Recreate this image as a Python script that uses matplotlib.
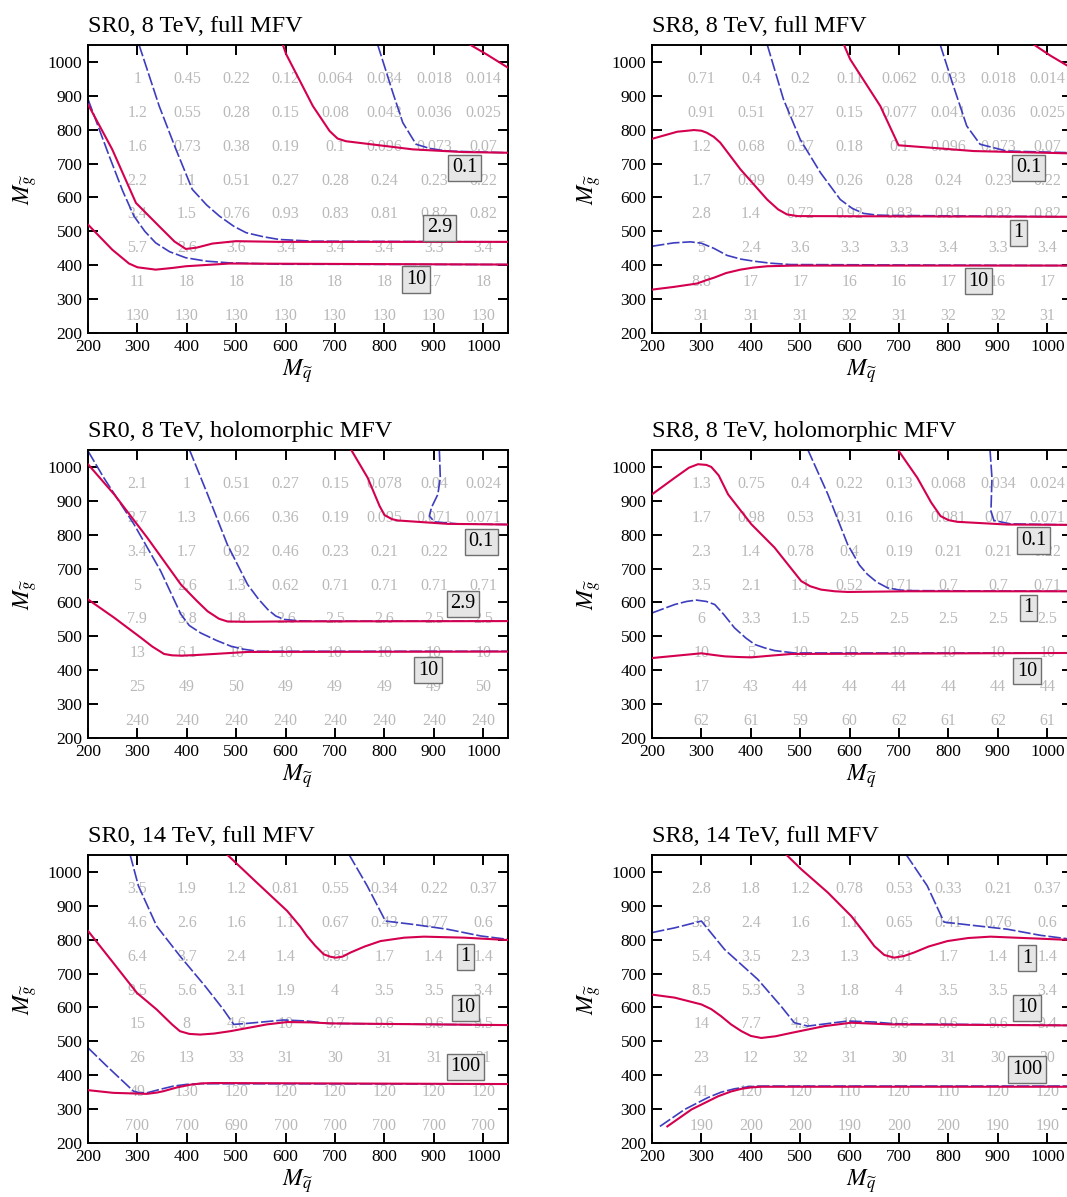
import matplotlib
matplotlib.use("Agg")
import matplotlib.pyplot as plt

plt.rcParams['font.family'] = ['Liberation Serif', 'DejaVu Serif']
plt.rcParams['mathtext.fontset'] = 'stix'
plt.rcParams['lines.scale_dashes'] = False

# ---------------- data ----------------
msq = [300, 400, 500, 600, 700, 800, 900, 1000]          # squark mass columns
mgl = [950, 850, 750, 650, 550, 450, 350, 250]           # gluino mass rows
ticks = [200, 300, 400, 500, 600, 700, 800, 900, 1000]

# Panel 1: SR0, 8 TeV, full MFV
p1_title = "SR0, 8 TeV, full MFV"
p1_values = [
    [1, 0.45, 0.22, 0.12, 0.064, 0.034, 0.018, 0.014],
    [1.2, 0.55, 0.28, 0.15, 0.08, 0.043, 0.036, 0.025],
    [1.6, 0.73, 0.38, 0.19, 0.1, 0.096, 0.073, 0.07],
    [2.2, 1.1, 0.51, 0.27, 0.28, 0.24, 0.23, 0.22],
    [3.4, 1.5, 0.76, 0.93, 0.83, 0.81, 0.82, 0.82],
    [5.7, 2.6, 3.6, 3.4, 3.4, 3.4, 3.3, 3.4],
    [11, 18, 18, 18, 18, 18, 17, 18],
    [130, 130, 130, 130, 130, 130, 130, 130],
]
p1_red = [
    ([972, 1006, 1050], [1052, 1023, 983]),
    ([594, 601, 655, 689, 705, 722, 756, 857, 959, 1050], [1052, 1023, 870, 796, 774, 766, 760, 742, 734, 732]),
    ([200, 249, 297, 344, 375, 398, 420, 452, 499, 587, 1050], [875, 742, 584, 515, 470, 448, 452, 464, 471, 469, 469]),
    ([200, 249, 283, 300, 337, 371, 398, 486, 1050], [520, 446, 405, 394, 387, 392, 397, 405, 402]),
]
p1_blue = [
    ([786, 817, 837, 864, 891, 925, 1050], [1052, 909, 821, 757, 745, 737, 732]),
    ([303, 344, 378, 411, 440, 466, 495, 520, 555, 587, 655, 1050], [1052, 870, 742, 624, 578, 545, 515, 496, 484, 476, 471, 469]),
    ([200, 243, 270, 293, 315, 337, 365, 398, 440, 486, 587, 1050], [890, 722, 620, 545, 500, 466, 440, 422, 412, 407, 403, 402]),
]
p1_labels = [("0.1", 962, 688), ("2.9", 911, 510), ("10", 864, 358)]

# Panel 2: SR8, 8 TeV, full MFV
p2_title = "SR8, 8 TeV, full MFV"
p2_values = [
    [0.71, 0.4, 0.2, 0.11, 0.062, 0.033, 0.018, 0.014],
    [0.91, 0.51, 0.27, 0.15, 0.077, 0.041, 0.036, 0.025],
    [1.2, 0.68, 0.37, 0.18, 0.1, 0.096, 0.073, 0.07],
    [1.7, 0.99, 0.49, 0.26, 0.28, 0.24, 0.23, 0.22],
    [2.8, 1.4, 0.72, 0.92, 0.83, 0.81, 0.82, 0.82],
    [5, 2.4, 3.6, 3.3, 3.3, 3.4, 3.3, 3.4],
    [8.8, 17, 17, 16, 16, 17, 16, 17],
    [31, 31, 31, 32, 31, 32, 32, 31],
]
p2_red = [
    ([972, 1007, 1050], [1052, 1018, 981]),
    ([588, 601, 662, 699, 763, 851, 1050], [1052, 1008, 870, 754, 747, 737, 730]),
    ([200, 251, 285, 300, 311, 325, 338, 379, 433, 455, 473, 495, 514, 1050], [773, 794, 799, 797, 791, 779, 762, 683, 594, 565, 550, 545, 545, 543]),
    ([200, 244, 291, 310, 325, 350, 379, 405, 433, 487, 1050], [328, 336, 346, 356, 363, 377, 387, 393, 397, 399, 399]),
]
p2_blue = [
    ([783, 810, 837, 864, 918, 1050], [1052, 929, 811, 757, 737, 732]),
    ([433, 466, 500, 541, 581, 605, 628, 655, 682, 1050], [1052, 890, 771, 673, 594, 568, 553, 548, 547, 543]),
    ([200, 244, 278, 300, 325, 352, 380, 406, 440, 480, 1050], [456, 466, 469, 465, 450, 429, 418, 412, 406, 402, 399]),
]
p2_labels = [("0.1", 962, 688), ("1", 942, 496), ("10", 861, 353)]

# Panel 3: SR0, 8 TeV, holomorphic MFV
p3_title = "SR0, 8 TeV, holomorphic MFV"
p3_values = [
    [2.1, 1, 0.51, 0.27, 0.15, 0.078, 0.04, 0.024],
    [2.7, 1.3, 0.66, 0.36, 0.19, 0.095, 0.071, 0.071],
    [3.4, 1.7, 0.92, 0.46, 0.23, 0.21, 0.22, 0.22],
    [5, 2.6, 1.3, 0.62, 0.71, 0.71, 0.71, 0.71],
    [7.9, 3.8, 1.8, 2.6, 2.5, 2.6, 2.5, 2.5],
    [13, 6.1, 10, 10, 10, 10, 10, 10],
    [25, 49, 50, 49, 49, 49, 49, 50],
    [240, 240, 240, 240, 240, 240, 240, 240],
]
p3_red = [
    ([732, 766, 790, 800, 815, 827, 928, 1050], [1052, 968, 885, 858, 846, 842, 832, 830]),
    ([200, 253, 320, 388, 420, 442, 465, 482, 520, 591, 1050], [1008, 919, 791, 653, 605, 574, 552, 544, 543, 544, 545]),
    ([200, 253, 307, 330, 354, 370, 388, 420, 455, 523, 1050], [609, 555, 496, 470, 448, 444, 443, 445, 448, 454, 455]),
]
p3_blue = [
    ([911, 913, 908, 895, 891, 901, 949, 1050], [1052, 968, 919, 880, 855, 838, 832, 830]),
    ([405, 442, 482, 523, 545, 564, 580, 597, 625, 658, 1050], [1052, 919, 771, 653, 610, 579, 560, 550, 546, 545, 545]),
    ([200, 232, 293, 347, 388, 405, 428, 460, 489, 515, 543, 1050], [1047, 968, 831, 693, 565, 532, 510, 488, 471, 462, 456, 456]),
]
p3_labels = [("0.1", 996, 779), ("2.9", 959, 596), ("10", 888, 400)]

# Panel 4: SR8, 8 TeV, holomorphic MFV
p4_title = "SR8, 8 TeV, holomorphic MFV"
p4_values = [
    [1.3, 0.75, 0.4, 0.22, 0.13, 0.068, 0.034, 0.024],
    [1.7, 0.98, 0.53, 0.31, 0.16, 0.081, 0.07, 0.071],
    [2.3, 1.4, 0.78, 0.4, 0.19, 0.21, 0.21, 0.22],
    [3.5, 2.1, 1.1, 0.52, 0.71, 0.7, 0.7, 0.71],
    [6, 3.3, 1.5, 2.5, 2.5, 2.5, 2.5, 2.5],
    [10, 5, 10, 10, 10, 10, 10, 10],
    [17, 43, 44, 44, 44, 44, 44, 44],
    [62, 61, 59, 60, 62, 61, 62, 61],
]
p4_red = [
    ([697, 737, 765, 784, 800, 818, 919, 1050], [1052, 968, 895, 855, 843, 838, 830, 829]),
    ([200, 246, 275, 293, 310, 320, 335, 354, 401, 448, 502, 520, 542, 570, 596, 717, 1050],
     [919, 968, 998, 1008, 1006, 1000, 975, 919, 831, 762, 663, 648, 638, 633, 631, 633, 633]),
    ([200, 250, 300, 325, 347, 375, 401, 440, 482, 1050], [436, 443, 450, 445, 441, 439, 438, 443, 448, 451]),
]
p4_blue = [
    ([884, 888, 886, 892, 925, 1050], [1052, 968, 870, 842, 832, 829]),
    ([515, 556, 596, 620, 636, 655, 677, 700, 717, 1050], [1052, 919, 771, 710, 683, 660, 643, 637, 635, 633]),
    ([200, 246, 270, 290, 310, 327, 345, 367, 390, 408, 428, 448, 488, 1050],
     [569, 594, 603, 607, 603, 594, 565, 525, 495, 476, 466, 458, 451, 451]),
]
p4_labels = [("0.1", 972, 783), ("1", 962, 584), ("10", 959, 397)]

# Panel 5: SR0, 14 TeV, full MFV
p5_title = "SR0, 14 TeV, full MFV"
p5_values = [
    [3.5, 1.9, 1.2, 0.81, 0.55, 0.34, 0.22, 0.37],
    [4.6, 2.6, 1.6, 1.1, 0.67, 0.43, 0.77, 0.6],
    [6.4, 3.7, 2.4, 1.4, 0.85, 1.7, 1.4, 1.4],
    [9.5, 5.6, 3.1, 1.9, 4, 3.5, 3.5, 3.4],
    [15, 8, 4.6, 10, 9.7, 9.6, 9.6, 9.5],
    [26, 13, 33, 31, 30, 31, 31, 31],
    [49, 130, 120, 120, 120, 120, 120, 120],
    [700, 700, 690, 700, 700, 700, 700, 700],
]
p5_red = [
    ([481, 542, 603, 630, 643, 660, 677, 690, 701, 715, 731, 760, 792, 840, 880, 961, 1050],
     [1052, 968, 885, 838, 811, 782, 757, 750, 747, 750, 762, 780, 796, 806, 809, 806, 799]),
    ([200, 251, 299, 339, 370, 386, 405, 427, 455, 488, 562, 603, 650, 691, 1050],
     [826, 732, 643, 594, 550, 530, 522, 520, 523, 530, 550, 557, 556, 553, 548]),
    ([200, 251, 319, 340, 353, 380, 407, 430, 454, 1050], [356, 348, 345, 349, 353, 364, 372, 376, 377, 374]),
]
p5_blue = [
    ([728, 765, 802, 859, 927, 995, 1050], [1052, 959, 855, 845, 831, 811, 801]),
    ([285, 302, 339, 386, 437, 474, 495, 522, 596, 643, 684, 1050],
     [1052, 959, 840, 752, 663, 594, 550, 553, 563, 560, 553, 548]),
    ([200, 238, 292, 305, 319, 345, 373, 400, 427, 1050], [481, 427, 353, 348, 348, 358, 368, 373, 375, 374]),
]
p5_labels = [("1", 964, 750), ("10", 964, 599), ("100", 964, 425)]

# Panel 6: SR8, 14 TeV, full MFV
p6_title = "SR8, 14 TeV, full MFV"
p6_values = [
    [2.8, 1.8, 1.2, 0.78, 0.53, 0.33, 0.21, 0.37],
    [3.8, 2.4, 1.6, 1.1, 0.65, 0.41, 0.76, 0.6],
    [5.4, 3.5, 2.3, 1.3, 0.81, 1.7, 1.4, 1.4],
    [8.5, 5.3, 3, 1.8, 4, 3.5, 3.5, 3.4],
    [14, 7.7, 4.3, 10, 9.6, 9.6, 9.6, 9.4],
    [23, 12, 32, 31, 30, 31, 30, 30],
    [41, 120, 120, 110, 120, 110, 120, 120],
    [190, 200, 200, 190, 200, 200, 190, 190],
]
p6_red = [
    ([471, 502, 556, 603, 630, 650, 670, 690, 710, 730, 760, 798, 840, 885, 986, 1050],
     [1052, 1008, 939, 870, 820, 781, 755, 747, 752, 762, 780, 796, 805, 809, 803, 799]),
    ([200, 246, 300, 320, 340, 360, 381, 400, 421, 450, 482, 549, 603, 683, 1050],
     [638, 629, 609, 595, 574, 550, 530, 516, 510, 515, 525, 545, 555, 550, 547]),
    ([231, 280, 334, 360, 381, 400, 421, 1050], [249, 299, 338, 352, 360, 364, 366, 366]),
]
p6_blue = [
    ([714, 757, 791, 851, 919, 986, 1050], [1052, 959, 852, 842, 831, 813, 801]),
    ([200, 246, 300, 347, 414, 461, 488, 515, 596, 650, 690, 1050],
     [821, 835, 855, 771, 683, 604, 555, 545, 560, 557, 552, 547]),
    ([216, 266, 313, 340, 367, 395, 421, 1050], [249, 299, 334, 350, 360, 366, 368, 368]),
]
p6_labels = [("1", 959, 745), ("10", 959, 599), ("100", 959, 417)]

# ---------------- drawing ----------------
W, H = 1067, 1197
fig = plt.figure(figsize=(W / 100, H / 100), dpi=100)

RED = '#d4004f'
BLUE = '#3d3dbf'
GRAY = '#b9b9b9'


def panel(left_px, top_px, title, values, red, blue, labels):
    aw, ah = 420, 288
    ax = fig.add_axes([left_px / W, 1 - (top_px + ah) / H, aw / W, ah / H])
    ax.set_xlim(200, 1050)
    ax.set_ylim(200, 1050)
    ax.set_xticks(ticks)
    ax.set_yticks(ticks)
    ax.tick_params(direction='in', top=True, right=True, length=7, width=1.4,
                   labelsize=12.5, pad=4)
    for s in ax.spines.values():
        s.set_linewidth(1.4)
    for i, row in enumerate(values):
        for j, v in enumerate(row):
            ax.text(msq[j], mgl[i], f"{v:g}", ha='center', va='center',
                    color=GRAY, fontsize=11.5, zorder=1)
    for xs, ys in blue:
        ax.plot(xs, ys, color=BLUE, lw=1.2, dashes=(9, 2), zorder=2)
    for xs, ys in red:
        ax.plot(xs, ys, color=RED, lw=1.5, zorder=3)
    for s, x, y in labels:
        ax.text(x, y, s, ha='center', va='center', fontsize=14.5, zorder=5,
                bbox=dict(boxstyle='square,pad=0.18', fc='#e6e6e6', ec='#707070', lw=1.0))
    ax.set_title(title, loc='left', fontsize=17.5, pad=9)
    ax.set_xlabel(r'$M_{\widetilde{q}}$', fontsize=17, labelpad=2)
    ax.set_ylabel(r'$M_{\widetilde{g}}$', fontsize=17, labelpad=6)
    return ax


panel(88, 45, p1_title, p1_values, p1_red, p1_blue, p1_labels)
panel(652, 45, p2_title, p2_values, p2_red, p2_blue, p2_labels)
panel(88, 450, p3_title, p3_values, p3_red, p3_blue, p3_labels)
panel(652, 450, p4_title, p4_values, p4_red, p4_blue, p4_labels)
panel(88, 855, p5_title, p5_values, p5_red, p5_blue, p5_labels)
panel(652, 855, p6_title, p6_values, p6_red, p6_blue, p6_labels)

fig.savefig('out.png', dpi=100)
